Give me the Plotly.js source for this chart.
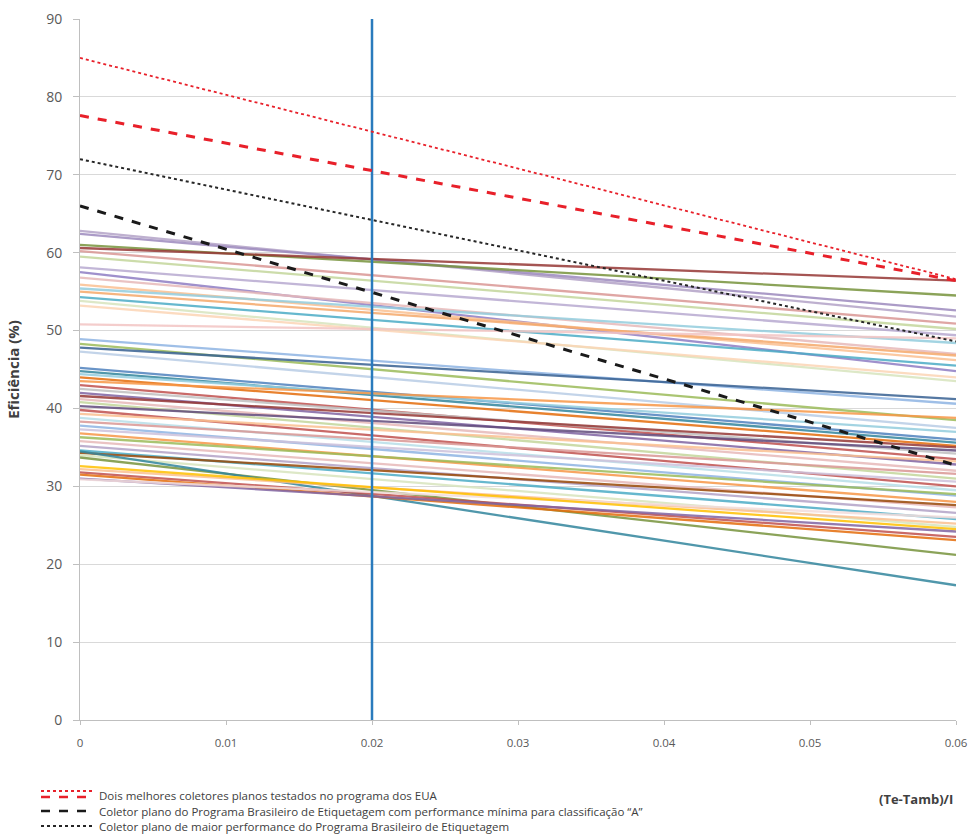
<!DOCTYPE html>
<html>
<head>
<meta charset="utf-8">
<script src="https://cdn.plot.ly/plotly-3.0.1.min.js"></script>
<style>body{margin:0;background:#fff}#chart{width:971px;height:838px}</style>
</head>
<body>
<div id="chart"></div>
<script>
// x positions of every curve: (Te-Tamb)/I
const xPoints = [0, 0.06];

// Efficiency at x = 0 and at x = 0.06 for the tested collectors (%)
const startValues = [62.8, 62.4, 61.0, 60.6, 60.2, 59.5, 58.1, 57.5, 56.8, 55.9, 55.4, 55.0, 54.3, 53.8, 53.2, 50.8,
  48.9, 48.3, 47.8, 47.3, 45.2, 44.8, 44.4, 44.0, 43.5, 43.0, 42.5, 42.0, 41.6, 41.2, 40.8, 40.3,
  39.8, 39.3, 38.8, 38.3, 37.8, 37.3, 36.8, 36.3, 35.8, 35.2, 34.6, 34.3, 34.0, 33.7, 34.5, 32.2,
  31.8, 31.5, 31.0, 30.9, 32.6];
const endValues = [51.8, 52.6, 54.5, 56.4, 50.9, 50.2, 49.4, 44.8, 47.0, 46.2, 48.4, 46.8, 45.5, 43.5, 44.0, 49.0,
  40.6, 38.5, 41.2, 37.5, 36.0, 35.6, 37.0, 35.2, 38.8, 33.5, 34.2, 32.8, 35.0, 32.0, 31.0, 34.6,
  30.0, 33.2, 29.5, 31.6, 28.8, 30.6, 28.0, 29.0, 27.3, 26.6, 25.8, 27.6, 24.8, 21.2, 17.3, 25.2,
  23.5, 23.1, 24.2, 26.0, 24.5];
const lineColors = ['#b3a2c7', '#9c89bd', '#77933c', '#953735', '#d99694', '#c3d69b', '#b7a9d0', '#8e7cc3',
  '#e6b9b8', '#fac090', '#93cddd', '#f5a86a', '#4bacc6', '#d7e4bd', '#fcd5b5', '#f2c4c3',
  '#8eb4e3', '#9bbb59', '#376092', '#b9cde5', '#4f81bd', '#31859c', '#93cddd', '#e46c0a', '#f79646',
  '#c0504d', '#bfbfbf', '#8064a2', '#953735', '#e6b9b8', '#c3d69b', '#604a7b', '#c0504d', '#fac090',
  '#b7dee8', '#d99694', '#8eb4e3', '#ccc1da', '#f79646', '#9bbb59', '#e6b9b8', '#b3a2c7', '#4bacc6',
  '#984807', '#d7e4bd', '#77933c', '#31859c', '#fac090', '#c0504d', '#e46c0a', '#8064a2', '#f2dcdb', '#ffc000'];

// Reference curves
const usBestDotted = [85.0, 56.6];
const usBestDashed = [77.6, 56.4];
const brMinimumA = [66.0, 32.7];
const brBest = [72.0, 48.6];

// Vertical marker
const markerX = [0.02, 0.02];
const markerY = [0, 90];

const xTicks = [0, 0.01, 0.02, 0.03, 0.04, 0.05, 0.06];
const xTickLabels = ['0', '0.01', '0.02', '0.03', '0.04', '0.05', '0.06'];
const yTicks = [0, 10, 20, 30, 40, 50, 60, 70, 80, 90];

const legendTexts = [
  'Dois melhores coletores planos testados no programa dos EUA',
  'Coletor plano do Programa Brasileiro de Etiquetagem com performance mínima para classificação “A”',
  'Coletor plano de maior performance do Programa Brasileiro de Etiquetagem'
];

const traces = [];
startValues.forEach((s, i) => {
  traces.push({
    x: xPoints, y: [s, endValues[i]], mode: 'lines', type: 'scatter',
    line: {color: lineColors[i], width: 2.3}, opacity: 0.85, hoverinfo: 'skip', showlegend: false
  });
});
traces.push({x: markerX, y: markerY, mode: 'lines', line: {color: '#2a7bbd', width: 2.5}, showlegend: false});
traces.push({x: xPoints, y: brMinimumA, mode: 'lines', line: {color: '#1a1a1a', width: 3, dash: 'dash'}, showlegend: false});
traces.push({x: xPoints, y: brBest, mode: 'lines', line: {color: '#262626', width: 2, dash: 'dot'}, showlegend: false});
traces.push({x: xPoints, y: usBestDashed, mode: 'lines', line: {color: '#e8202a', width: 3, dash: 'dash'}, showlegend: false});
traces.push({x: xPoints, y: usBestDotted, mode: 'lines', line: {color: '#e8202a', width: 1.8, dash: 'dot'}, showlegend: false});

const W = 876, H = 701, L = 80, T = 19;
const px = v => (v - L) / W;
const py = v => (T + H - v) / H;

const shapes = [
  {type: 'line', xref: 'paper', yref: 'paper', x0: px(41), x1: px(93), y0: py(791), y1: py(791), line: {color: '#e8202a', width: 2, dash: 'dot'}},
  {type: 'line', xref: 'paper', yref: 'paper', x0: px(41), x1: px(93), y0: py(797), y1: py(797), line: {color: '#e8202a', width: 2.5, dash: 'dash'}},
  {type: 'line', xref: 'paper', yref: 'paper', x0: px(41), x1: px(93), y0: py(811), y1: py(811), line: {color: '#1a1a1a', width: 2.5, dash: 'dash'}},
  {type: 'line', xref: 'paper', yref: 'paper', x0: px(41), x1: px(93), y0: py(826), y1: py(826), line: {color: '#262626', width: 2, dash: 'dot'}}
];
const legendY = [795, 811, 826];
const annotations = legendTexts.map((t, i) => ({
  text: t, xref: 'paper', yref: 'paper', x: px(97), y: py(legendY[i]), xanchor: 'left', yanchor: 'middle',
  showarrow: false, font: {family: 'Open Sans, sans-serif', size: 11.5, color: '#404040'}
}));
annotations.push({
  text: '<b>(Te-Tamb)/I</b>', xref: 'paper', yref: 'paper', x: px(955), y: py(799), xanchor: 'right', yanchor: 'middle',
  showarrow: false, font: {family: 'Open Sans, sans-serif', size: 13, color: '#404040'}
});

const layout = {
  width: 971, height: 838,
  margin: {l: 80, r: 15, t: 19, b: 118},
  paper_bgcolor: '#ffffff', plot_bgcolor: '#ffffff',
  font: {family: 'Open Sans, sans-serif', color: '#595959'},
  xaxis: {
    range: [0, 0.06], tickvals: xTicks, ticktext: xTickLabels, showgrid: false, zeroline: false,
    showline: true, linecolor: '#bfbfbf', linewidth: 1, ticks: 'outside', ticklen: 4, tickcolor: '#bfbfbf',
    ticklabelstandoff: 8,
    tickfont: {size: 11.5, color: '#595959'}
  },
  yaxis: {
    range: [0, 90], tickvals: yTicks, showgrid: true, gridcolor: '#d9d9d9', gridwidth: 1, zeroline: false,
    showline: true, linecolor: '#bfbfbf', linewidth: 1, ticks: 'outside', ticklen: 6, tickcolor: '#bfbfbf',
    ticklabelstandoff: 8,
    tickfont: {size: 14, color: '#595959'},
    title: {text: '<b>Eficiência (%)</b>', font: {size: 15, color: '#404040'}, standoff: 22}
  },
  shapes: shapes,
  annotations: annotations,
  showlegend: false
};

Plotly.newPlot('chart', traces, layout, {displayModeBar: false, staticPlot: true});
</script>
</body>
</html>
